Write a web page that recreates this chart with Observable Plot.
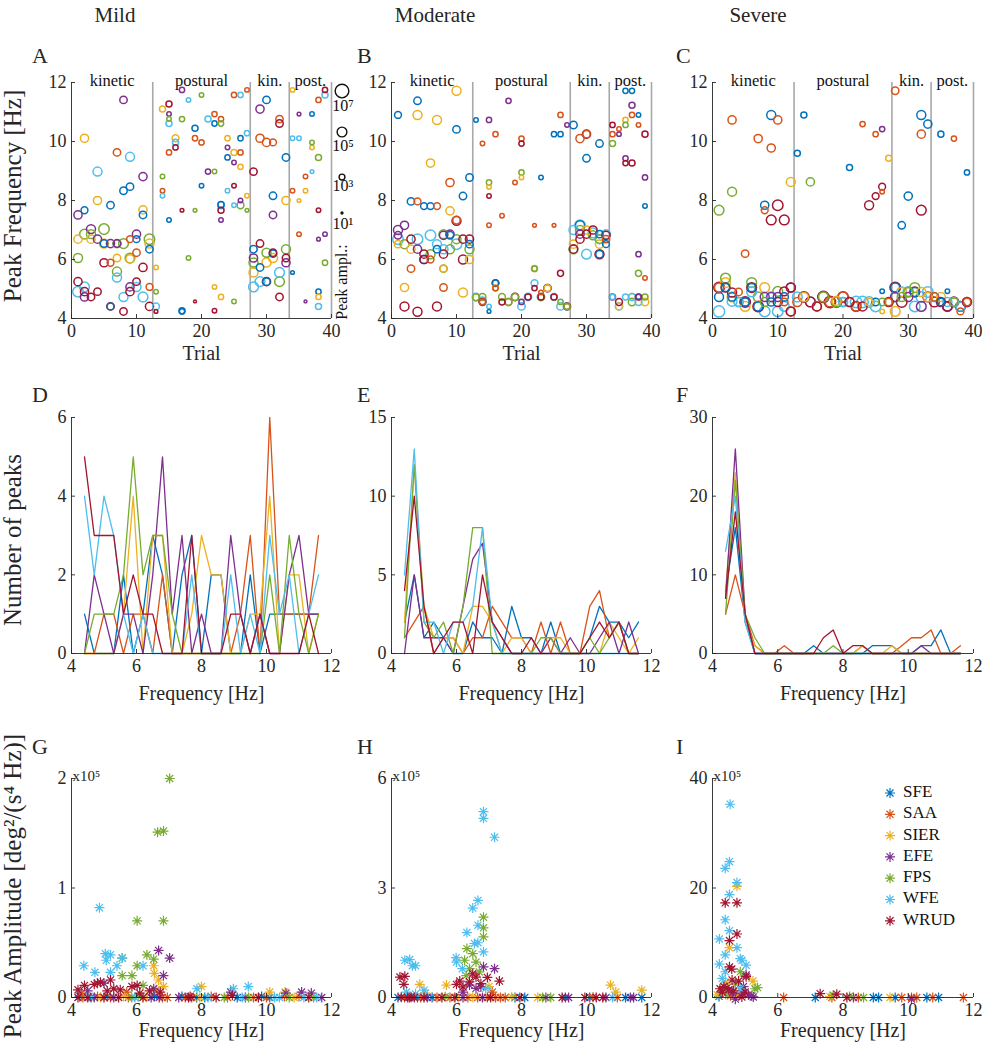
<!DOCTYPE html>
<html><head><meta charset="utf-8">
<script src="https://cdn.jsdelivr.net/npm/d3@7"></script>
<script src="https://cdn.jsdelivr.net/npm/@observablehq/plot@0.6"></script>
<style>
html,body{margin:0;padding:0;background:#fff;}
#fig{position:relative;width:982px;height:1050px;overflow:hidden;font-family:"Liberation Serif","DejaVu Serif",serif;color:#262626;}
#fig svg{position:absolute;}
</style></head><body><div id="fig"></div>
<script>
// ---------- categories ----------
const DOFS = ["SFE","SAA","SIER","EFE","FPS","WFE","WRUD"];
const COLORS = ["#0072BD","#D95319","#EDB120","#7E2F8E","#77AC30","#4DBEEE","#A2142F"];
const severities = ["Mild","Moderate","Severe"];
const phaseNames = ["kinetic","postural","kin.","post."];
const phaseBounds = [0,12.5,27.5,33.5,40];
const sizeLegendExp = [7,5,3,1];
const binCenters = [4.4,4.7,5.0,5.3,5.6,5.9,6.2,6.5,6.8,7.1,7.4,7.7,8.0,8.3,8.6,8.9,9.2,9.5,9.8,10.1,10.4,10.7,11.0,11.3,11.6];

// ---------- row 1: [trial, peak frequency Hz, dof index, log10 amplitude] ----------
const peaksMild = [
[1,7.51,3,4.2],[2,7.67,0,3.5],[2,10.11,2,4.2],[4,8.98,5,4.6],[4,8.0,2,4.2],[6,7.84,0,3.8],[7,9.63,1,3.8],[8,8.33,0,3.8],[9,8.47,0,3.8],[9,9.48,5,4.6],[11,8.81,3,4.2],[11,7.68,2,4.2],[11,7.51,0,3.8],[8,11.41,3,3.8],
[3,7.03,3,4.6],[2,6.86,4,5.0],[1,6.69,2,4.2],[1,6.05,4,4.6],[3,6.86,4,4.6],[3,6.69,2,4.2],[4,6.69,3,4.2],[5,7.03,4,5.4],[5,6.54,2,4.6],[5,6.54,0,3.8],[6,6.54,3,4.2],[7,6.54,4,4.2],[7,6.54,3,3.8],[8,6.54,4,5.0],[9,6.69,1,3.5],[10,6.86,3,4.2],[10,6.69,0,3.5],[12,6.69,4,5.4],[12,6.54,2,4.6],[12,6.35,0,3.8],
[9,6.05,4,5.0],[9,6.02,2,4.2],[10,6.23,1,3.8],[7,6.05,2,3.8],[6,5.89,1,3.5],[5,5.89,6,4.2],[7,5.59,4,4.6],[7,5.39,5,4.6],[11,5.73,6,4.2],
[1,5.25,6,4.2],[2,5.07,5,5.0],[1,4.91,5,5.4],[2,4.91,6,4.2],[2,4.73,3,4.2],[3,4.73,6,3.8],[4,4.91,6,3.8],[9,5.07,3,4.2],[9,4.91,6,4.2],[10,5.25,6,3.8],[10,5.07,5,4.6],[8,4.73,5,4.6],[11,4.73,5,5.0],[12,5.07,1,3.5],
[6,4.41,6,3.8],[6,4.41,0,3.5],[8,4.24,6,3.8],[12,4.41,6,4.2],
[13,4.41,5,3.5],[13,5.73,2,2.3],[13,4.91,4,2.3],[13,4.24,6,1.9],[14,8.33,1,2.3],[14,8.16,5,2.3],[14,8.81,4,2.3],[14,11.1,2,3.1],[15,11.27,6,3.1],[15,10.93,3,2.3],[15,10.76,4,2.3],[15,10.61,5,3.1],[15,9.63,1,2.7],[15,7.34,0,2.3],[16,10.11,2,3.5],[16,9.97,5,3.1],[16,9.8,6,2.7],[17,11.75,3,2.7],[17,10.76,4,2.7],[17,7.67,6,1.9],[17,4.26,0,3.1],[17,4.24,0,2.7],[18,11.41,5,2.3],[18,6.05,4,2.3],[19,10.45,0,3.1],[19,10.11,1,2.7],[19,7.67,4,1.9],[19,4.58,6,1.5],[20,11.58,4,2.3],[20,9.97,1,2.7],[20,8.5,0,2.3],[21,8.98,3,2.7],[21,10.76,5,3.1],[22,10.93,1,2.7],[22,10.61,0,2.7],[22,8.98,4,2.3],[22,5.07,2,2.3],[22,4.26,6,2.3],[23,10.76,1,2.7],[23,10.61,4,2.7],[23,7.84,5,3.5],[23,7.86,0,3.1],[23,7.67,6,3.1],[23,7.34,3,2.3],[23,4.73,2,2.7],[24,10.11,2,2.7],[24,9.8,3,2.3],[24,9.46,0,2.7],[24,8.33,5,2.3],[25,11.58,1,2.7],[25,9.63,2,3.1],[25,9.29,3,2.3],[25,8.5,6,2.3],[25,7.84,5,2.3],[25,4.58,4,2.3],[26,11.58,5,2.7],[26,10.11,0,2.7],[26,9.63,1,2.7],[26,9.14,2,2.7],[26,8.0,3,2.3],[26,7.84,4,3.5],[27,11.75,1,2.3],[27,10.28,5,2.7],[27,8.16,2,2.3],[27,7.67,4,1.9],
[28,8.98,6,3.8],[28,6.35,0,3.8],[28,6.05,3,4.2],[28,5.9,4,4.6],[28,5.56,2,4.6],[28,5.07,5,5.0],[29,11.1,3,4.2],[29,6.54,6,3.8],[29,5.73,0,3.8],[29,5.25,5,5.0],[29,10.11,1,4.2],[30,11.41,0,3.8],[30,9.97,1,4.2],[31,9.97,1,3.5],[30,5.25,6,4.2],[30,5.25,0,3.8],[30,5.9,2,4.6],[30,6.23,4,4.6],[31,8.16,0,3.8],[31,7.51,3,3.8],[31,6.23,6,3.8],[31,6.2,0,3.8],[31,6.05,2,4.6],[32,10.76,1,3.8],[32,10.61,6,3.8],[32,5.56,5,5.0],[32,5.25,4,5.0],[32,4.73,6,3.8],[33,9.46,0,3.8],[33,8.0,2,4.2],[33,6.35,4,4.6],[33,6.05,6,3.8],[33,5.89,3,4.2],
[34,11.75,2,2.3],[34,10.11,5,2.3],[34,8.33,1,2.3],[34,5.56,0,1.9],[35,10.11,5,2.3],[35,10.93,3,1.9],[35,8.0,2,1.9],[35,6.86,1,2.3],[36,8.81,1,2.3],[36,8.33,2,2.3],[36,4.58,3,1.5],[37,10.93,0,2.3],[37,9.97,4,2.3],[37,9.8,2,2.3],[37,8.98,5,1.9],[38,11.41,1,2.7],[38,9.46,4,3.1],[38,7.67,6,2.3],[38,6.69,3,1.9],[38,4.91,0,2.7],[38,4.73,2,2.7],[38,4.41,5,3.1],[39,11.75,6,2.7],[39,11.58,5,3.1],[39,6.86,3,2.3],[39,5.89,4,2.7]
];
const peaksModerate = [
[1,10.9,0,3.5],[4,11.38,0,3.8],[4,10.9,2,4.6],[7,10.73,2,4.6],[10,11.72,2,4.6],[10,10.41,0,3.8],[6,9.27,2,4.2],[9,8.61,1,4.2],[12,8.78,0,3.8],[11,8.15,0,3.8],[9,7.65,2,4.2],[3,7.97,0,3.8],[4,7.97,1,3.5],[5,7.81,0,3.5],[6,7.81,0,3.5],[7,7.81,1,3.5],[10,7.31,6,4.6],[10,7.33,1,3.8],
[1,7.0,3,4.6],[1,6.82,3,3.8],[1,6.69,5,5.4],[1,6.52,2,3.8],[2,7.16,3,4.2],[2,6.52,4,4.6],[3,6.69,6,4.2],[3,6.35,2,4.2],[4,6.69,5,5.4],[4,6.35,3,4.2],[5,6.18,6,4.2],[5,6.0,0,4.2],[5,6.0,6,4.2],[6,6.18,4,4.6],[6,6.0,1,3.5],[6,6.82,5,5.4],[7,6.35,0,3.8],[7,6.52,5,4.6],[8,6.86,4,4.6],[8,6.82,3,4.2],[8,6.35,5,4.6],[8,6.18,6,4.2],[9,6.86,3,4.2],[9,6.82,0,3.8],[9,6.35,4,4.6],[10,6.52,5,5.4],[10,6.69,4,4.6],[11,6.69,6,4.2],[12,6.35,4,4.6],[12,6.69,6,4.2],[12,6.52,0,3.8],[11,6.0,6,4.6],[12,6.0,2,4.2],
[3,5.69,1,3.8],[8,5.69,4,3.8],[8,5.69,2,3.5],[2,5.05,2,4.2],[8,5.05,1,3.8],[11,4.88,2,4.6],[2,4.41,6,4.6],[4,4.23,6,4.6],[7,4.41,6,4.6],
[13,10.73,0,2.3],[14,9.93,1,2.3],[15,10.73,3,2.7],[16,10.25,1,2.7],[18,11.38,3,2.7],[20,10.1,1,2.7],[20,9.93,6,2.7],[20,8.95,4,2.7],[20,8.78,2,2.3],[19,8.61,1,2.3],[15,8.61,4,2.7],[15,8.46,2,2.3],[15,8.15,6,2.3],[17,7.48,1,2.3],[15,7.16,1,2.3],[22,7.16,1,1.9],[23,8.78,0,2.3],[25,7.16,1,1.9],[25,10.25,0,2.7],[26,10.25,0,2.7],[26,10.9,1,2.7],[27,10.56,3,2.3],[26,5.53,6,3.1],
[13,4.73,5,3.8],[13,4.72,2,3.5],[13,4.72,4,3.5],[14,4.6,5,3.8],[14,4.73,4,3.5],[14,4.56,6,3.5],[14,4.56,1,3.1],[15,4.41,5,2.3],[15,4.24,0,1.9],[16,5.2,6,3.5],[16,5.2,0,3.1],[16,5.03,2,3.1],[16,5.03,1,2.7],[17,4.73,4,3.5],[17,4.56,6,3.1],[18,4.56,1,3.5],[18,4.56,4,3.5],[19,4.73,6,3.8],[19,4.73,4,3.5],[20,4.56,3,2.7],[20,4.41,5,3.8],[21,4.73,5,3.8],[21,4.73,6,3.1],[22,5.69,2,3.1],[22,5.69,4,2.7],[22,5.2,5,3.5],[22,5.03,6,2.7],[23,4.88,1,2.3],[23,4.73,5,3.8],[23,4.73,2,3.5],[23,4.73,4,3.5],[23,4.73,6,3.1],[24,5.03,6,3.8],[24,5.03,2,3.5],[24,5.03,5,3.8],[25,4.73,5,3.5],[25,4.73,6,3.1],[26,4.56,4,2.7],[26,4.41,5,3.8],[27,4.41,6,3.5],[27,4.41,4,3.1],[27,4.41,5,3.8],[27,4.41,1,3.1],
[28,10.56,0,3.8],[29,10.1,1,4.2],[30,10.25,6,4.2],[30,10.25,1,3.8],[30,9.43,0,3.8],[32,9.93,0,3.8],
[28,7.0,5,4.6],[28,6.52,2,4.2],[28,6.35,4,4.6],[28,6.35,6,4.2],[29,7.16,0,4.6],[29,7.16,5,5.4],[29,6.86,3,4.2],[29,7.0,4,4.6],[29,6.69,6,4.2],[30,6.18,5,5.0],[30,7.0,2,4.2],[30,6.86,6,4.2],[31,7.0,6,4.2],[31,6.9,5,5.0],[31,6.82,4,4.6],[32,6.86,0,3.8],[32,6.69,5,4.6],[32,6.18,6,4.6],[32,6.18,0,3.8],[32,6.52,2,4.2],[32,6.69,4,4.2],[33,6.86,5,4.6],[33,6.82,6,4.2],[33,6.69,1,3.8],[33,6.52,0,3.5],
[36,11.72,0,2.7],[37,11.72,0,2.7],[37,11.23,3,3.1],[37,10.9,1,2.7],[36,10.73,2,2.7],[36,10.56,4,2.7],[34,10.56,6,2.7],[35,10.42,1,2.3],[34,10.25,1,2.7],[35,10.25,3,2.3],[38,10.9,0,2.3],[38,10.56,1,2.3],[39,10.25,6,3.1],[34,9.93,4,3.1],[36,9.43,3,2.7],[36,9.27,6,2.7],[37,9.27,6,3.1],[39,8.78,3,2.7],[39,7.81,0,2.3],[38,6.18,3,2.7],[38,5.53,4,3.1],[39,5.37,1,2.3],
[34,4.73,3,3.1],[34,4.73,5,2.7],[35,4.56,6,3.5],[35,4.41,2,3.5],[35,4.41,5,3.8],[36,4.73,5,3.1],[37,4.73,2,3.5],[37,4.56,4,3.8],[37,4.73,5,3.5],[38,4.73,6,3.1],[38,4.73,3,2.7],[38,4.56,5,3.5],[39,4.73,4,3.1],[39,4.56,2,3.8]
];
const peaksSevere = [
[1,7.67,4,5.0],[3,10.73,1,4.2],[3,8.3,4,4.6],[5,6.2,1,3.8],[7,10.1,1,4.2],[9,10.9,0,4.6],[10,10.73,1,4.2],[9,9.78,1,4.2],[8,7.84,0,4.2],[8,7.67,1,3.5],[10,7.84,6,5.4],[9,7.34,6,5.0],[11,7.34,6,5.0],[12,8.63,2,4.6],[13,9.6,0,3.1],[14,10.9,0,3.1],[15,8.63,4,4.2],[21,9.12,0,3.1],[23,10.59,1,2.7],[25,10.25,1,2.7],[26,10.42,3,2.7],[27,9.43,2,3.1],[26,8.47,6,3.5],[26,8.3,1,2.3],[25,8.15,6,3.5],[24,7.84,6,4.6],[28,11.72,1,3.8],[32,10.9,0,4.6],[33,10.59,0,4.2],[32,10.25,1,4.2],[30,8.15,0,4.2],[29,7.16,0,3.8],[32,7.67,6,5.0],[35,10.25,0,3.1],[37,10.1,1,2.7],[39,8.95,0,2.7],[26,4.92,0,2.3],[36,4.92,0,2.3],
[1,5.05,6,5.4],[1,5.05,1,4.6],[1,4.73,0,4.6],[1,4.24,5,5.8],[2,5.37,4,5.0],[2,5.22,2,5.0],[2,5.05,0,4.2],[2,5.05,6,4.6],[3,4.73,2,5.0],[3,4.88,6,4.6],[3,4.58,5,5.0],[3,4.73,0,4.2],[4,4.9,1,3.8],[4,4.56,5,4.6],[4,4.56,4,4.6],[5,4.56,6,5.4],[5,4.41,2,5.0],[5,4.56,0,4.2],[5,4.56,3,4.6],[6,5.22,4,5.0],[6,5.05,6,5.0],[6,5.05,0,4.2],[6,4.9,5,5.0],[7,4.41,6,5.4],[7,4.41,0,4.6],[7,4.73,4,5.0],[8,5.05,2,5.0],[8,4.24,5,5.4],[8,4.56,4,4.6],[8,4.73,3,4.6],[9,4.73,5,5.0],[9,4.73,3,4.6],[9,4.56,0,4.2],[10,4.92,4,5.0],[10,4.24,5,5.4],[10,4.73,3,4.6],[10,4.56,6,4.6],[11,4.92,6,4.6],[11,4.73,0,4.2],[11,4.56,1,3.8],[11,4.41,5,5.0],[12,5.05,6,4.6],[12,4.24,1,4.6],[12,4.24,6,4.6],[12,5.05,3,4.6],
[13,4.56,1,4.6],[13,4.73,5,5.0],[14,4.73,6,5.4],[14,4.73,2,4.6],[15,4.56,5,5.0],[15,4.56,6,5.0],[16,4.41,1,4.6],[16,4.41,2,4.6],[16,4.41,6,4.6],[17,4.73,6,5.8],[17,4.73,4,5.0],[18,4.56,6,5.8],[18,4.56,1,5.0],[19,4.56,4,5.0],[19,4.56,6,5.4],[19,4.6,2,4.6],[20,4.73,6,5.4],[20,4.73,1,5.0],[20,4.56,0,4.6],[20,4.56,5,4.6],[21,4.56,1,4.6],[21,4.56,6,4.6],[22,4.41,6,5.0],[22,4.41,1,4.6],[22,4.56,5,5.8],[23,4.41,6,4.6],[23,4.56,5,5.8],[24,4.56,5,5.4],[24,4.56,2,3.8],[25,4.41,5,5.4],[25,4.56,0,3.8],[26,4.24,2,2.3],[26,4.56,4,3.8],[27,4.56,6,4.6],[27,4.56,1,3.8],
[28,4.24,2,5.0],[28,5.05,6,5.4],[28,5.05,0,4.6],[28,4.73,3,4.6],[28,4.73,5,5.0],[29,4.56,6,5.4],[29,4.9,5,5.0],[29,4.73,4,4.6],[29,4.9,2,4.6],[30,4.9,5,5.4],[30,4.9,2,4.6],[30,4.73,3,4.6],[30,4.9,4,4.6],[31,5.05,4,5.0],[31,4.9,6,5.0],[31,4.9,0,4.6],[31,4.41,5,5.4],[32,4.41,3,5.0],[32,4.9,2,4.6],[32,4.73,5,5.4],[33,4.9,5,5.4],[33,4.73,6,5.0],[33,4.73,2,4.6],[34,4.56,6,5.0],[34,4.73,1,4.2],[34,4.73,5,4.6],[35,4.56,6,4.6],[35,4.56,0,3.8],[35,4.73,2,4.6],[36,4.41,3,5.0],[36,4.41,6,4.6],[36,4.56,5,4.6],[37,4.56,6,5.0],[37,4.56,5,4.6],[37,4.56,4,4.2],[38,4.41,6,5.0],[38,4.24,1,3.5],[38,4.41,3,4.6],[38,4.41,5,4.6],[39,4.56,6,4.6],[39,4.56,2,4.6],[39,4.56,5,4.6],[39,4.56,1,3.8]
];

// ---------- row 2: number of peaks per frequency bin, one list per DOF (SFE..WRUD) ----------
const countsMild = [
[1,0,0,0,2,0,1,3,2,0,2,3,0,2,2,0,0,2,0,1,1,1,1,1,1],
[0,0,1,1,0,1,1,0,2,0,0,0,0,0,0,0,1,3,0,6,1,1,1,1,3],
[0,0,0,0,1,4,0,3,3,0,0,1,3,2,2,0,0,1,1,4,0,2,2,0,1],
[0,2,1,0,1,1,0,2,5,1,3,0,1,0,0,3,1,0,1,0,0,2,3,1,1],
[0,1,1,1,2,5,2,3,3,1,0,0,0,0,0,0,0,0,0,2,0,3,1,0,1],
[4,2,4,3,1,0,1,0,0,0,0,2,0,0,0,2,0,1,0,3,1,2,0,1,2],
[5,3,3,3,1,2,1,1,0,0,0,3,0,0,0,1,1,0,1,0,0,0,0,1,0]
];
const countsModerate = [
[2,5,1,2,1,0,0,2,1,1,0,3,1,1,0,2,0,0,0,1,3,2,2,1,2],
[1,2,3,0,1,1,0,1,1,3,2,1,1,0,2,0,2,0,0,3,4,1,2,0,0],
[2,12,3,1,1,1,0,3,3,2,0,1,1,0,0,1,1,0,0,0,0,2,1,0,1],
[0,5,1,1,1,0,3,6,7,2,1,0,0,0,0,1,0,1,0,0,1,2,0,2,0],
[1,12,2,1,2,0,3,8,8,0,0,0,0,0,1,1,0,0,0,1,0,1,2,0,0],
[5,13,2,2,0,2,2,3,8,2,0,0,0,0,0,0,0,0,0,0,0,0,0,0,0],
[4,10,3,0,1,2,2,0,5,2,1,0,0,1,0,0,0,0,0,1,2,1,2,0,0]
];
const countsSevere = [
[8,16,4,0,0,0,0,0,0,1,0,0,0,0,0,1,1,1,0,0,1,1,3,0,0],
[5,10,5,1,0,0,1,0,0,0,0,0,0,0,1,0,0,0,1,2,2,3,0,0,1],
[8,23,4,1,0,0,0,0,0,0,0,0,0,0,1,0,0,1,0,0,0,0,0,0,0],
[7,26,5,0,0,0,0,0,0,0,0,0,0,0,0,0,0,0,0,0,1,0,0,0,0],
[5,22,5,2,0,0,0,0,0,0,0,1,0,0,0,0,0,0,0,0,0,0,0,0,0],
[13,20,4,0,0,0,0,0,0,0,0,0,0,0,0,0,0,0,0,0,0,0,0,0,0],
[7,18,5,0,0,0,0,0,0,0,2,3,0,1,1,0,0,0,0,0,0,0,0,0,0]
];

// ---------- row 3: [frequency Hz, peak amplitude (x10^5), dof index] ----------
const ampMild = [
[7.02,2.0,4],[6.65,1.51,4],[6.83,1.52,4],[4.86,0.82,5],[6.02,0.70,4],[6.83,0.70,4],[6.68,0.43,3],[7.02,0.36,3],[5.04,0.40,5],[5.07,0.34,5],[5.2,0.39,5],[4.38,0.29,5],[4.72,0.23,5],[5.2,0.23,5],[5.56,0.36,5],[5.56,0.36,4],[5.4,0.29,5],[5.56,0.2,4],[5.86,0.2,4],[6.02,0.29,4],[6.2,0.29,5],[6.32,0.39,4],[6.53,0.35,4],[6.53,0.29,2],[6.55,0.22,2],[6.83,0.2,3],[6.68,0.16,2],
[4.2,0.07,6],[4.4,0.11,6],[4.89,0.14,6],[5.0,0.13,3],[5.2,0.16,6],[5.3,0.08,6],[5.5,0.07,6],[5.86,0.1,6],[6.02,0.11,6],[6.2,0.11,4],[6.53,0.08,3],[6.73,0.05,6],[6.83,0.1,2],[4.7,0.12,6],[4.8,0.13,3],[4.3,0.04,1],[4.5,0.06,3],[5.1,0.06,6],[5.7,0.05,1],[6.1,0.04,6],[6.4,0.06,6],[6.6,0.07,2],[7.86,0.08,5],[8.0,0.1,2],[8.98,0.08,5],[9.44,0.1,5],[8.9,0.05,3],[10.1,0.05,2],[10.57,0.05,2],[11.08,0.05,3],[11.38,0.04,3],[10.6,0.04,3],
[4.2,0,6],[4.25,0.01,0],[4.35,0,1],[4.5,0,6],[4.55,0.01,5],[4.6,0,0],[4.7,0,3],[4.8,0.01,1],[4.9,0,2],[5.0,0,6],[5.1,0.01,0],[5.2,0,1],[5.3,0,3],[5.45,0,6],[5.6,0.01,2],[5.75,0,1],[5.85,0,4],[5.95,0,5],[6.05,0.01,4],[6.2,0,6],[6.3,0,2],[6.45,0,3],[6.55,0.01,0],[6.7,0,3],[6.8,0,1],[6.95,0,1],[7.3,0,3],[7.4,0.01,0],[7.5,0,1],[7.6,0,6],[7.65,0.01,6],[7.7,0,1],[7.85,0,0],[7.95,0,2],[8.1,0,0],[8.2,0,5],[8.3,0.01,1],[8.45,0,6],[8.7,0,4],[8.8,0,1],[8.95,0.02,6],[9.1,0,0],[9.25,0,5],[9.35,0,3],[9.45,0,4],[9.6,0,1],[9.75,0,6],[9.85,0.01,0],[10.0,0,1],[10.1,0,0],[10.25,0,5],[10.4,0,5],[10.55,0.01,1],[10.7,0,4],[10.85,0,2],[11.0,0.01,1],[11.15,0,5],[11.3,0,6],[11.45,0,4],[11.55,0,5],[11.7,0,3]
];
const ampModerate = [
[6.83,5.09,5],[6.83,4.91,5],[7.17,4.39,5],[6.66,2.66,5],[6.5,2.45,5],[6.32,1.78,5],[6.66,1.98,5],[6.83,2.2,4],[6.83,1.91,4],[6.83,1.66,4],[6.66,1.5,5],[6.55,1.48,5],[6.83,1.25,5],[6.32,1.34,4],[6.5,1.2,4],[5.99,1.09,5],[6.0,0.97,5],[6.18,0.79,5],[6.25,1.02,4],[6.6,0.97,4],[6.4,0.79,4],[6.83,0.84,3],[7.17,0.79,3],[7.32,0.45,6],[4.41,1.02,5],[4.56,1.04,5],[4.64,0.87,5],[4.74,0.87,5],[4.26,0.56,6],[4.41,0.58,6],[4.38,0.36,6],[4.87,0.36,2],[5.69,0.34,2],[10.74,0.34,2],[10.9,0.15,2],[11.7,0.2,2],[6.0,0.36,6],[6.2,0.29,6],[6.4,0.43,6],[6.6,0.56,6],[6.75,0.38,6],[6.2,0.15,3],[6.4,0.34,3],[6.6,0.25,3],[6.75,0.29,3],[6.9,0.25,5],[7.1,0.15,1],[7.0,0.3,2],[6.3,0.6,4],[6.5,0.65,6],[6.95,0.55,6],[6.1,0.45,6],[6.7,0.7,4],[4.46,0.15,5],[4.74,0.1,5],[5.0,0.2,5],[5.05,0.12,2],
[4.2,0,0],[4.3,0.01,6],[4.4,0,1],[4.5,0,6],[4.55,0,3],[4.6,0.01,6],[4.7,0,6],[4.8,0,0],[4.9,0,1],[5.0,0,6],[5.1,0,3],[5.25,0,0],[5.4,0,1],[5.55,0,6],[5.65,0.02,4],[5.8,0,1],[5.95,0,6],[6.05,0,2],[6.2,0,3],[6.35,0,1],[6.5,0.01,2],[6.65,0,1],[6.8,0,3],[6.95,0,1],[7.05,0,6],[7.2,0,1],[7.35,0,1],[7.5,0,1],[7.7,0.02,2],[7.8,0,0],[7.95,0,6],[8.1,0,0],[8.5,0,2],[8.65,0,4],[8.75,0,3],[8.9,0,4],[9.25,0,6],[9.35,0,0],[9.45,0,3],[9.95,0,6],[10.1,0,0],[10.2,0.01,1],[10.3,0,6],[10.5,0,6],[10.6,0,3],[10.8,0,5],[10.95,0,1],[11.2,0,0],[11.35,0,3],[11.45,0,3],[11.7,0,0]
];
const ampSevere = [
[4.54,35.3,5],[4.52,24.8,5],[4.39,23.6,5],[4.75,21.0,5],[4.75,20.3,2],[4.52,18.8,5],[4.39,17.3,6],[4.75,17.3,6],[4.39,14.2,5],[4.52,12.2,5],[4.75,11.6,6],[4.21,10.7,5],[4.52,10.4,6],[4.52,9.1,2],[4.75,9.1,5],[4.39,7.8,5],[4.85,7.1,5],[4.9,6.8,5],[5.03,5.9,5],[4.21,6.1,5],[4.52,5.6,6],[4.59,5.2,6],[4.39,4.7,5],[4.85,4.7,4],[5.03,4.1,3],[5.03,3.8,6],[5.24,3.0,2],[5.38,1.8,4],[5.3,1.6,4],[4.23,1.6,6],[4.3,3.5,5],[4.6,3.2,6],[4.7,2.5,4],[4.4,2.8,2],[4.8,3.0,6],[4.95,2.0,3],[4.15,0.5,2],[4.3,1.0,6],[4.45,1.8,3],[4.65,1.2,6],[4.9,0.8,3],[5.1,0.5,3],[4.55,0.3,1],[4.2,0.2,0],[4.75,0.4,2],[5.0,1.0,6],[4.35,2.0,6],[4.62,0.9,3],[4.5,1.4,6],[4.85,1.6,5],[5.2,0.3,3],[4.7,-0.3,3],[4.9,0.1,6],[5.25,0.1,3],[4.4,0.6,4],
[6.18,0,1],[7.15,0,0],[7.3,0.7,6],[7.66,0,1],[7.7,0.4,4],[7.81,0.6,6],[8.12,0,6],[8.32,0,3],[8.47,0,1],[8.63,0,4],[8.93,0,0],[9.09,0,0],[9.44,0,2],[9.6,0,0],[9.8,0,1],[10.1,0,1],[10.1,-0.3,3],[10.26,0,1],[10.57,0,0],[10.75,0,1],[10.93,0,0],[11.69,0,1],[7.6,0.2,2],[8.2,0.2,4]
];

// ---------- layout ----------
const FONT = '"Liberation Serif","DejaVu Serif",serif';
const INK = "#262626";
const COLS = [{l:71,r:331},{l:391,r:651},{l:712,r:973}];
const ROWS = [{t:82,b:318,lab:35},{t:417,b:653,lab:40},{t:778,b:997,lab:33}];
const fig = document.getElementById("fig");
const R_RANGE = [0,7.8];

const asterisk = {draw(ctx, size){
  const r = Math.sqrt(size/Math.PI), d = r*Math.SQRT1_2;
  ctx.moveTo(-r,0); ctx.lineTo(r,0); ctx.moveTo(0,-r); ctx.lineTo(0,r);
  ctx.moveTo(-d,-d); ctx.lineTo(d,d); ctx.moveTo(-d,d); ctx.lineTo(d,-d);
}};

function panel({col,row,x,y,xlabel,marks,extra={}}){
  const c = COLS[col], rr = ROWS[row];
  const w = c.r-c.l, h = rr.b-rr.t;
  const M = {l:50,r:14,t:30,b:52};
  const svg = Plot.plot({
    width:w+M.l+M.r, height:h+M.t+M.b,
    marginLeft:M.l, marginRight:M.r, marginTop:M.t, marginBottom:M.b,
    style:{fontFamily:FONT, color:INK, background:"transparent", overflow:"visible"},
    x:{domain:x.domain}, y:{domain:y.domain},
    ...extra,
    marks:[
      ...marks,
      Plot.ruleX([x.domain[0]],{stroke:INK,strokeWidth:0.9}),
      Plot.ruleY([y.domain[0]],{stroke:INK,strokeWidth:0.9}),
      Plot.tickX(x.ticks,{x:d=>d,insetTop:h-4,stroke:INK,strokeWidth:0.9}),
      Plot.tickY(y.ticks,{y:d=>d,insetRight:w-4,stroke:INK,strokeWidth:0.9}),
      Plot.axisX({ticks:x.ticks,tickSize:0,tickPadding:6,fontSize:18,label:null,tickFormat:d=>String(d)}),
      Plot.axisY({ticks:y.ticks,tickSize:0,tickPadding:5,fontSize:18,label:null,tickFormat:d=>String(d)}),
      Plot.text([xlabel],{frameAnchor:"bottom",dy:rr.lab,fontSize:20,lineAnchor:"middle"})
    ]
  });
  svg.style.left = (c.l-M.l)+"px";
  svg.style.top = (rr.t-M.t)+"px";
  fig.appendChild(svg);
}

const colorScale = {domain:DOFS, range:COLORS};
const dofOrder = (a,b)=>DOFS.indexOf(a.dof)-DOFS.indexOf(b.dof);
const phases = phaseNames.map((name,i)=>({name,start:phaseBounds[i],end:phaseBounds[i+1]}));

// row 1
[peaksMild,peaksModerate,peaksSevere].forEach((data,col)=>{
  const rows = data.map(([t,f,d,e])=>({t,f,dof:DOFS[d],e})).sort(dofOrder);
  panel({col,row:0,
    x:{domain:[0,40],ticks:[0,10,20,30,40]}, y:{domain:[4,12],ticks:[4,6,8,10,12]},
    xlabel:"Trial",
    extra:{r:{type:"linear",domain:[0,8],range:R_RANGE}, color:colorScale},
    marks:[
      Plot.ruleX(phaseBounds.slice(1),{stroke:"#a8a8a8",strokeWidth:1.6}),
      Plot.text(phases,{x:d=>(d.start+d.end)/2,text:"name",frameAnchor:"top",dy:-8,fontSize:16.5,fill:"#111"}),
      Plot.dot(rows,{x:"t",y:"f",r:"e",stroke:"dof",fill:"none",strokeWidth:1.5})
    ]});
});

// row 2
const countYs = [[0,6],[0,15],[0,30]];
const countTicks = [[0,2,4,6],[0,5,10,15],[0,10,20,30]];
[countsMild,countsModerate,countsSevere].forEach((counts,col)=>{
  const rows = DOFS.flatMap((dof,i)=>counts[i].map((n,j)=>({f:binCenters[j],n,dof})));
  panel({col,row:1,
    x:{domain:[4,12],ticks:[4,6,8,10,12]}, y:{domain:countYs[col],ticks:countTicks[col]},
    xlabel:"Frequency [Hz]",
    extra:{color:colorScale},
    marks:[Plot.line(rows,{x:"f",y:"n",z:"dof",stroke:"dof",strokeWidth:1.3})]});
});

// row 3
const ampYs = [[0,2],[0,6],[0,40]];
const ampTicks = [[0,1,2],[0,3,6],[0,20,40]];
[ampMild,ampModerate,ampSevere].forEach((data,col)=>{
  const rows = data.map(([f,a,d])=>({f,a,dof:DOFS[d]})).sort(dofOrder);
  panel({col,row:2,
    x:{domain:[4,12],ticks:[4,6,8,10,12]}, y:{domain:ampYs[col],ticks:ampTicks[col]},
    xlabel:"Frequency [Hz]",
    extra:{color:colorScale},
    marks:[
      Plot.dot(rows,{x:"f",y:"a",stroke:"dof",fill:"none",symbol:asterisk,r:5,strokeWidth:1.2}),
      Plot.text(["x10\u2075"],{frameAnchor:"top-left",textAnchor:"start",dx:1,dy:-8,fontSize:15})
    ]});
});

// ---------- text outside the plots ----------
function txt(s,x,y,{size=17,anchor="middle",rotate=0}={}){
  const d = document.createElement("div");
  d.textContent = s;
  d.style.cssText = `position:absolute;left:${x}px;top:${y}px;font-size:${size}px;line-height:1;white-space:nowrap;color:${INK};transform:translate(${anchor==="start"?"0":"-50%"},-50%) rotate(${rotate}deg);transform-origin:${anchor==="start"?"0 50%":"50% 50%"};`;
  fig.appendChild(d);
}
severities.forEach((s,i)=>txt(s,[115,435,758][i],15,{size:21}));
"ABCDEFGHI".split("").forEach((L,i)=>{
  const col=i%3,row=Math.floor(i/3);
  txt(L,[32,357,676][col],[56,395,747][row],{size:22,anchor:"start"});
});
txt("Peak Frequency [Hz]",12,196,{size:25,rotate:-90});
txt("Number of peaks",12,540,{size:25,rotate:-90});
txt("Peak Amplitude [deg\u00B2/(s\u2074 Hz)]",12,886,{size:25,rotate:-90});

// size legend (panel A)
(function(){
  const svg = d3.create("svg").attr("width",40).attr("height",260)
    .style("left","322px").style("top","75px").style("overflow","visible");
  const cy = [16,57,102,138], ly=[32,72,112,150];
  const rScale = d3.scaleLinear([0,8],R_RANGE);
  sizeLegendExp.forEach((e,i)=>{
    svg.append("circle").attr("cx",20).attr("cy",cy[i]).attr("r",rScale(e)).attr("fill","none").attr("stroke","#111").attr("stroke-width",1.4);
    svg.append("text").attr("x",21).attr("y",ly[i]).attr("text-anchor","middle").attr("dominant-baseline","middle")
      .attr("font-family",FONT).attr("font-size",16).attr("fill","#111").text("10"+"\u2070\u00B9\u00B2\u00B3\u2074\u2075\u2076\u2077"[e]);
  });
  svg.append("text").attr("transform","translate(21,207) rotate(-90)").attr("text-anchor","middle").attr("dominant-baseline","middle")
    .attr("font-family",FONT).attr("font-size",16).attr("fill","#111").text("Peak ampl.:");
  fig.appendChild(svg.node());
})();

// DOF legend (panel I)
(function(){
  const svg = d3.create("svg").attr("width",90).attr("height",150)
    .style("left","878px").style("top","780px").style("overflow","visible");
  const sym = d3.symbol().type(asterisk).size(Math.PI*5*5);
  DOFS.forEach((dof,i)=>{
    const y = 13+i*21.3;
    svg.append("path").attr("d",sym()).attr("transform",`translate(12,${y})`).attr("fill","none").attr("stroke",COLORS[i]).attr("stroke-width",1.2);
    svg.append("text").attr("x",25).attr("y",y).attr("dominant-baseline","middle").attr("font-family",FONT).attr("font-size",17).attr("fill","#111").text(dof);
  });
  fig.appendChild(svg.node());
})();
</script></body></html>
